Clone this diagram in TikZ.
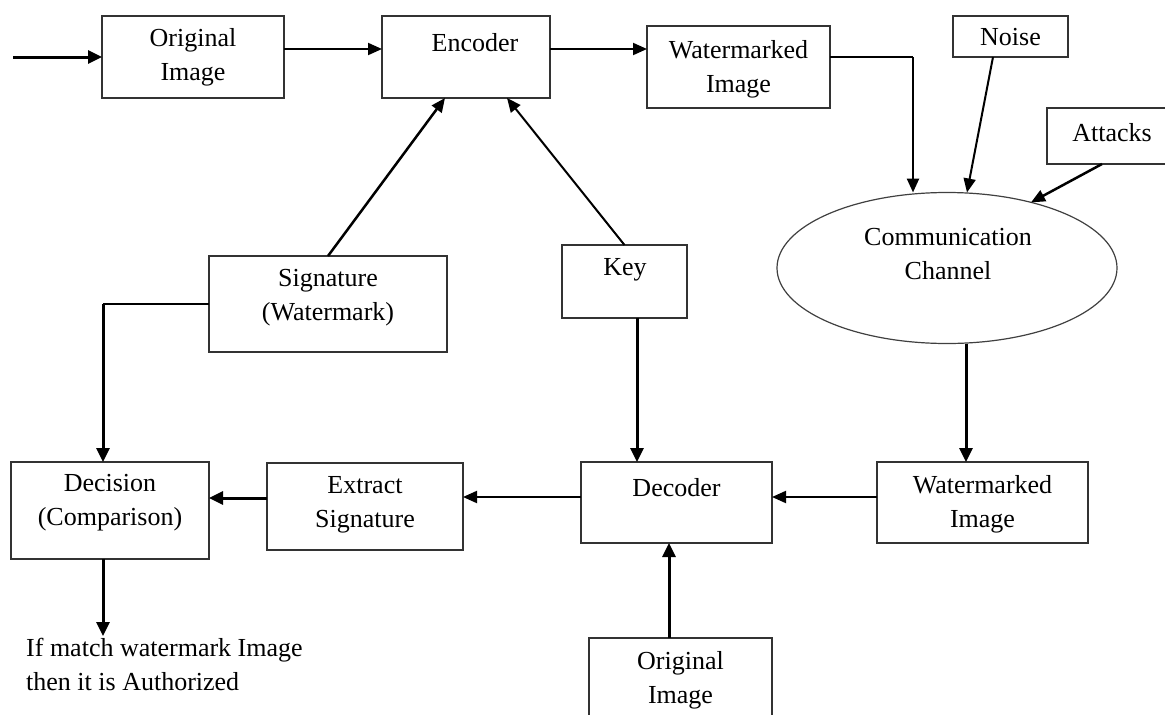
\documentclass[tikz,border=0pt]{standalone}
\usepackage{fontspec}
\setmainfont{Liberation Serif}
\usetikzlibrary{arrows.meta,shapes.geometric,calc}
\begin{document}
\begin{tikzpicture}[x=1pt,y=-1pt,
  box/.style={draw=black!80, line width=1.3pt, rectangle, inner sep=0pt, outer sep=0pt},
  oval/.style={draw=black!75, line width=1.2pt, ellipse, inner sep=0pt, outer sep=0pt, minimum width=340pt, minimum height=151pt},
  txt/.style={font=\fontsize{26}{34}\selectfont, align=center, inner sep=0pt},
  arr/.style={-{Triangle[length=14pt,width=12pt]}, line width=2pt},
  arrthick/.style={-{Triangle[length=14pt,width=13pt]}, line width=3pt},
  conn/.style={line width=1.5pt},
  connthick/.style={line width=3pt}
]
\useasboundingbox[fill=white] (0,0) rectangle (1165,715);

% boxes
\node[box, minimum width=182pt, minimum height=82pt] (orig) at (193,57) {};
\node[box, minimum width=168pt, minimum height=82pt] (enc) at (466,57) {};
\node[box, minimum width=183pt, minimum height=82pt] (wm) at (738.5,67) {};
\node[box, minimum width=115pt, minimum height=41pt] (noise) at (1010.5,36.5) {};
\node[box, minimum width=130pt, minimum height=56pt] (attacks) at (1112,136) {};
\node[oval] (chan) at (947,268) {};
\node[box, minimum width=238pt, minimum height=96pt] (sig) at (328,304) {};
\node[box, minimum width=125pt, minimum height=73pt] (key) at (624.5,281.5) {};
\node[box, minimum width=198pt, minimum height=97pt] (dec) at (110,510.5) {};
\node[box, minimum width=196pt, minimum height=87pt] (ext) at (365,506.5) {};
\node[box, minimum width=191pt, minimum height=81pt] (decoder) at (676.5,502.5) {};
\node[box, minimum width=211pt, minimum height=81pt] (wmb) at (982.5,502.5) {};
\node[box, minimum width=183pt, minimum height=107pt] (origb) at (680.5,691.5) {};

% texts
\node[txt] (torig) at (193,57.5) {Original\\Image};
\node[txt] (tenc) at (475,43) {Encoder};
\node[txt] (twm) at (738.5,69) {Watermarked\\Image};
\node[txt] (tnoise) at (1010.5,37) {Noise};
\node[txt] (tatt) at (1112,133) {Attacks};
\node[txt] (tchan) at (948,254) {Communication\\Channel};
\node[txt] (tsig) at (328,297.5) {Signature\\(Watermark)};
\node[txt] (tkey) at (625,270) {Key};
\node[txt] (tdec) at (110,503) {Decision\\(Comparison)};
\node[txt] (text) at (365,505) {Extract\\Signature};
\node[txt] (tdecoder) at (676.5,488) {Decoder};
\node[txt] (twmb) at (982.5,504.5) {Watermarked\\Image};
\node[txt] (torigb) at (680.5,680) {Original\\Image};
\node[txt, align=left, anchor=west] (tresult) at (26,664.5) {If match watermark Image\\then it is Authorized};

% connectors
\coordinate (in) at (13,57);
\draw[arrthick] (in) -- (orig.west);
\draw[arr] ([yshift=8pt]orig.east) -- ([yshift=8pt]enc.west);
\draw[arr] ([yshift=8pt]enc.east) -- ([yshift=8pt]enc.east -| wm.west);
\coordinate (c1) at (913,57);
\draw[conn] ([yshift=10pt]wm.east) -- (c1);
\draw[arr, line width=2.5pt] (c1) -- (c1 |- chan.north);
\draw[arr] ([xshift=-17.5pt]noise.south) -- ([xshift=20pt]chan.north);
\draw[arr, line width=2.5pt] ([xshift=-10pt]attacks.south) -- (chan.38.5);
\draw[arrthick] ([xshift=19pt]chan.south) -- ([xshift=19pt]chan.south |- wmb.north);
\draw[arr, line width=2.5pt] (sig.north) -- ([xshift=-21pt]enc.south);
\draw[arr] (key.north) -- ([xshift=41pt]enc.south);
\draw[arrthick] ([xshift=12.5pt]key.south) -- ([xshift=12.5pt]key.south |- decoder.north);
\coordinate (c2) at (103,304);
\draw[conn] (sig.west) -- (c2);
\draw[arrthick] (c2) -- (c2 |- dec.north);
\draw[arr] ([yshift=5.5pt]wmb.west) -- ([yshift=5.5pt]decoder.east);
\draw[arr] ([yshift=5.5pt]decoder.west) -- ([yshift=5.5pt]decoder.west -| ext.east);
\draw[arrthick] ([yshift=8.5pt]ext.west) -- ([yshift=8.5pt]ext.west -| dec.east);
\coordinate (res) at (103,636);
\draw[arrthick] (dec.south -| res) -- (res);
\draw[arrthick] ([xshift=-11.5pt]origb.north) -- ([xshift=-11.5pt]origb.north |- decoder.south);
\end{tikzpicture}
\end{document}
